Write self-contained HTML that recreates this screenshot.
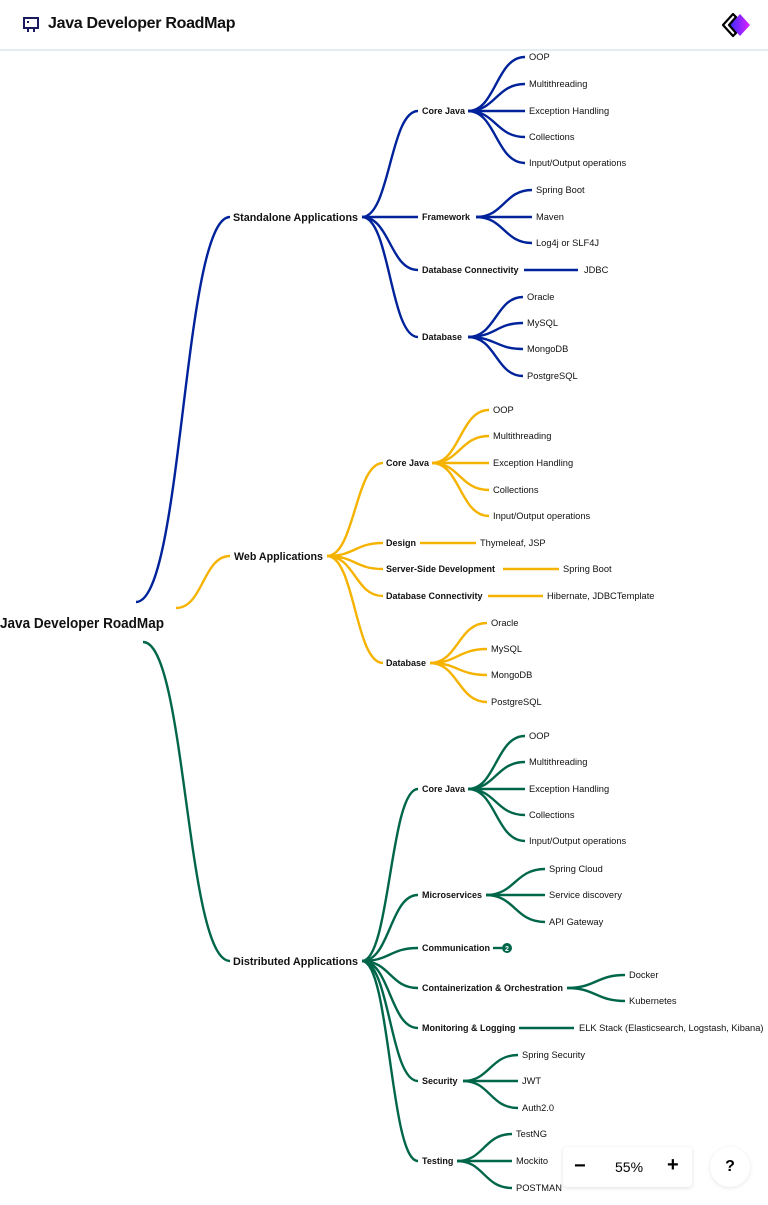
<!DOCTYPE html>
<html><head><meta charset="utf-8"><style>
body{margin:0;width:768px;height:1205px;background:#fff;overflow:hidden;font-family:"Liberation Sans",sans-serif;position:relative}
.hdr{position:absolute;left:0;top:0;width:768px;height:49px;border-bottom:2px solid #e3eef0;background:#fff}
.ttl{position:absolute;left:48px;top:15px;font-weight:bold;font-size:16px;color:#111;letter-spacing:-0.3px}
svg text{font-family:"Liberation Sans",sans-serif;fill:#111}
.l1{font-weight:bold;font-size:11px}
.l2{font-weight:bold;font-size:9px}
.lf{font-size:9.3px}
.zoom{position:absolute;left:563px;top:1147px;width:129px;height:40px;background:#fff;box-shadow:0 1px 4px rgba(0,0,0,.12);border-radius:4px;font-size:14px}
.q{position:absolute;left:710px;top:1147px;width:40px;height:40px;border-radius:20px;background:#fff;box-shadow:0 1px 4px rgba(0,0,0,.1);text-align:center;line-height:40px;font-weight:bold;font-size:16px}
</style></head><body>
<div class="hdr">
<svg style="position:absolute;left:23px;top:17px" width="16" height="16" viewBox="0 0 16 16"><rect x="1" y="1" width="14" height="10" fill="none" stroke="#1a1a5e" stroke-width="2"/><rect x="4" y="4" width="2" height="2" fill="#1a1a5e"/><rect x="4" y="12" width="2" height="3" fill="#1a1a5e"/><rect x="10" y="12" width="2" height="3" fill="#1a1a5e"/></svg>
<div class="ttl">Java Developer RoadMap</div>
<svg style="position:absolute;left:720px;top:12px" width="32" height="26" viewBox="0 0 32 26"><defs><linearGradient id="g" x1="0" x2="1"><stop offset="0" stop-color="#3a2bff"/><stop offset="1" stop-color="#e020ff"/></linearGradient></defs><path d="M20 2 L30 13 L20 24 L10 13Z" fill="url(#g)"/><path d="M13 2 L3 13 L13 24 L16 21 L9 13 L16 5Z" fill="none" stroke="#000" stroke-width="2.2" stroke-linejoin="round"/></svg>
</div>
<svg style="position:absolute;left:0;top:0" width="768" height="1205">
<g fill="none" stroke-width="2.4" stroke="#00229a">
<path d="M136 602 C183 602,183 217,230 217"/>
<path d="M362 217 C390 217,390 111,418 111"/>
<path d="M362 217 L418 217"/>
<path d="M362 217 C390 217,390 270,418 270"/>
<path d="M362 217 C390 217,390 337,418 337"/>
<path d="M468 111 C496 111,496 57,525 57"/><path d="M468 111 C496 111,496 84,525 84"/><path d="M468 111 L525 111"/><path d="M468 111 C496 111,496 137,525 137"/><path d="M468 111 C496 111,496 163,525 163"/>
<path d="M476 217 C504 217,504 190,532 190"/><path d="M476 217 L532 217"/><path d="M476 217 C504 217,504 243,532 243"/>
<path d="M524 270 L578 270"/>
<path d="M468 337 C496 337,496 297,523 297"/><path d="M468 337 C496 337,496 323,523 323"/><path d="M468 337 C496 337,496 349,523 349"/><path d="M468 337 C496 337,496 376,523 376"/>
</g>
<g fill="none" stroke-width="2.4" stroke="#f5b300">
<path d="M176 608 C203 608,203 556,230 556"/>
<path d="M327 556 C355 556,355 463,383 463"/>
<path d="M327 556 C355 556,355 543,383 543"/>
<path d="M327 556 C355 556,355 569,383 569"/>
<path d="M327 556 C355 556,355 596,383 596"/>
<path d="M327 556 C355 556,355 663,383 663"/>
<path d="M432 463 C460 463,460 410,489 410"/><path d="M432 463 C460 463,460 436,489 436"/><path d="M432 463 L489 463"/><path d="M432 463 C460 463,460 490,489 490"/><path d="M432 463 C460 463,460 516,489 516"/>
<path d="M420 543 L476 543"/><path d="M503 569 L559 569"/><path d="M488 596 L543 596"/>
<path d="M430 663 C458 663,458 623,487 623"/><path d="M430 663 C458 663,458 649,487 649"/><path d="M430 663 C458 663,458 675,487 675"/><path d="M430 663 C458 663,458 702,487 702"/>
</g>
<g fill="none" stroke-width="2.4" stroke="#00664a">
<path d="M143 642 C186 642,186 961,230 961"/>
<path d="M362 961 C390 961,390 789,418 789"/>
<path d="M362 961 C390 961,390 895,418 895"/>
<path d="M362 961 C390 961,390 948,418 948"/>
<path d="M362 961 C390 961,390 988,418 988"/>
<path d="M362 961 C390 961,390 1028,418 1028"/>
<path d="M362 961 C390 961,390 1081,418 1081"/>
<path d="M362 961 C390 961,390 1161,418 1161"/>
<path d="M468 789 C496 789,496 736,525 736"/><path d="M468 789 C496 789,496 762,525 762"/><path d="M468 789 L525 789"/><path d="M468 789 C496 789,496 815,525 815"/><path d="M468 789 C496 789,496 841,525 841"/>
<path d="M486 895 C515 895,515 869,545 869"/><path d="M486 895 L545 895"/><path d="M486 895 C515 895,515 922,545 922"/>
<path d="M493 948 L502 948"/>
<path d="M567 988 C596 988,596 975,625 975"/><path d="M567 988 C596 988,596 1001,625 1001"/>
<path d="M519 1028 L574 1028"/>
<path d="M463 1081 C490 1081,490 1055,518 1055"/><path d="M463 1081 L518 1081"/><path d="M463 1081 C490 1081,490 1108,518 1108"/>
<path d="M457 1161 C484 1161,484 1134,512 1134"/><path d="M457 1161 L512 1161"/><path d="M457 1161 C484 1161,484 1188,512 1188"/>
</g>
<circle cx="507" cy="948" r="5" fill="#00664a"/><text x="507" y="951" font-size="7" font-weight="bold" text-anchor="middle" style="fill:#fff">2</text>
<text x="0" y="628" font-size="15" font-weight="bold" textLength="164" lengthAdjust="spacingAndGlyphs">Java Developer RoadMap</text>
<g class="l1">
<text x="233" y="221" textLength="125" lengthAdjust="spacingAndGlyphs">Standalone Applications</text>
<text x="234" y="560" textLength="89" lengthAdjust="spacingAndGlyphs">Web Applications</text>
<text x="233" y="965" textLength="125" lengthAdjust="spacingAndGlyphs">Distributed Applications</text>
</g>
<g class="l2">
<text x="422" y="114">Core Java</text><text x="422" y="220">Framework</text><text x="422" y="273">Database Connectivity</text><text x="422" y="340">Database</text>
<text x="386" y="466">Core Java</text><text x="386" y="546">Design</text><text x="386" y="572">Server-Side Development</text><text x="386" y="599">Database Connectivity</text><text x="386" y="666">Database</text>
<text x="422" y="792">Core Java</text><text x="422" y="898">Microservices</text><text x="422" y="951">Communication</text><text x="422" y="991">Containerization &amp; Orchestration</text><text x="422" y="1031">Monitoring &amp; Logging</text><text x="422" y="1084">Security</text><text x="422" y="1164">Testing</text>
</g>
<g class="lf">
<text x="529" y="60">OOP</text><text x="529" y="87">Multithreading</text><text x="529" y="114">Exception Handling</text><text x="529" y="140">Collections</text><text x="529" y="166">Input/Output operations</text>
<text x="536" y="193">Spring Boot</text><text x="536" y="220">Maven</text><text x="536" y="246">Log4j or SLF4J</text>
<text x="584" y="273">JDBC</text>
<text x="527" y="300">Oracle</text><text x="527" y="326">MySQL</text><text x="527" y="352">MongoDB</text><text x="527" y="379">PostgreSQL</text>
<text x="493" y="413">OOP</text><text x="493" y="439">Multithreading</text><text x="493" y="466">Exception Handling</text><text x="493" y="493">Collections</text><text x="493" y="519">Input/Output operations</text>
<text x="480" y="546">Thymeleaf, JSP</text><text x="563" y="572">Spring Boot</text><text x="547" y="599">Hibernate, JDBCTemplate</text>
<text x="491" y="626">Oracle</text><text x="491" y="652">MySQL</text><text x="491" y="678">MongoDB</text><text x="491" y="705">PostgreSQL</text>
<text x="529" y="739">OOP</text><text x="529" y="765">Multithreading</text><text x="529" y="792">Exception Handling</text><text x="529" y="818">Collections</text><text x="529" y="844">Input/Output operations</text>
<text x="549" y="872">Spring Cloud</text><text x="549" y="898">Service discovery</text><text x="549" y="925">API Gateway</text>
<text x="629" y="978">Docker</text><text x="629" y="1004">Kubernetes</text>
<text x="579" y="1031">ELK Stack (Elasticsearch, Logstash, Kibana)</text>
<text x="522" y="1058">Spring Security</text><text x="522" y="1084">JWT</text><text x="522" y="1111">Auth2.0</text>
<text x="516" y="1137">TestNG</text><text x="516" y="1164">Mockito</text><text x="516" y="1191">POSTMAN</text>
</g>
</svg>
<div class="zoom"><span style="position:absolute;left:11px;top:8px;font-size:20px;font-weight:bold">−</span><span style="position:absolute;left:52px;top:12px">55%</span><span style="position:absolute;left:104px;top:7px;font-size:20px;font-weight:bold">+</span></div>
<div class="q">?</div>
</body></html>
